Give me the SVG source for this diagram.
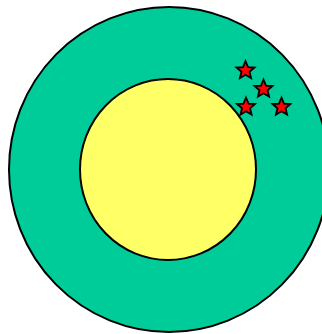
<svg xmlns="http://www.w3.org/2000/svg" width="322" height="334" viewBox="0 0 322 334">
<defs>
<style>
.outer{fill:#00cc99;stroke:#000;stroke-width:2}
.inner{fill:#ffff66;stroke:#000;stroke-width:2}
.star{fill:#ff0000;stroke:#000;stroke-width:1.8;stroke-linejoin:miter}
</style>
<polygon id="starShape" points="0,-9.5 2.5,-3.4 9.03,-2.94 4.03,1.31 5.58,7.69 0,4.2 -5.58,7.69 -4.03,1.31 -9.03,-2.94 -2.5,-3.4"/>
</defs>
<g id="outer-circle"><ellipse class="outer" cx="169" cy="169.5" rx="160" ry="162.5"/></g>
<g id="inner-circle"><ellipse class="inner" cx="168" cy="169.5" rx="88" ry="90.5"/></g>
<g id="stars">
<use href="#starShape" class="star" x="245.5" y="70.5"/>
<use href="#starShape" class="star" x="263.5" y="89"/>
<use href="#starShape" class="star" x="246" y="107"/>
<use href="#starShape" class="star" x="281.5" y="107"/>
</g>
</svg>
